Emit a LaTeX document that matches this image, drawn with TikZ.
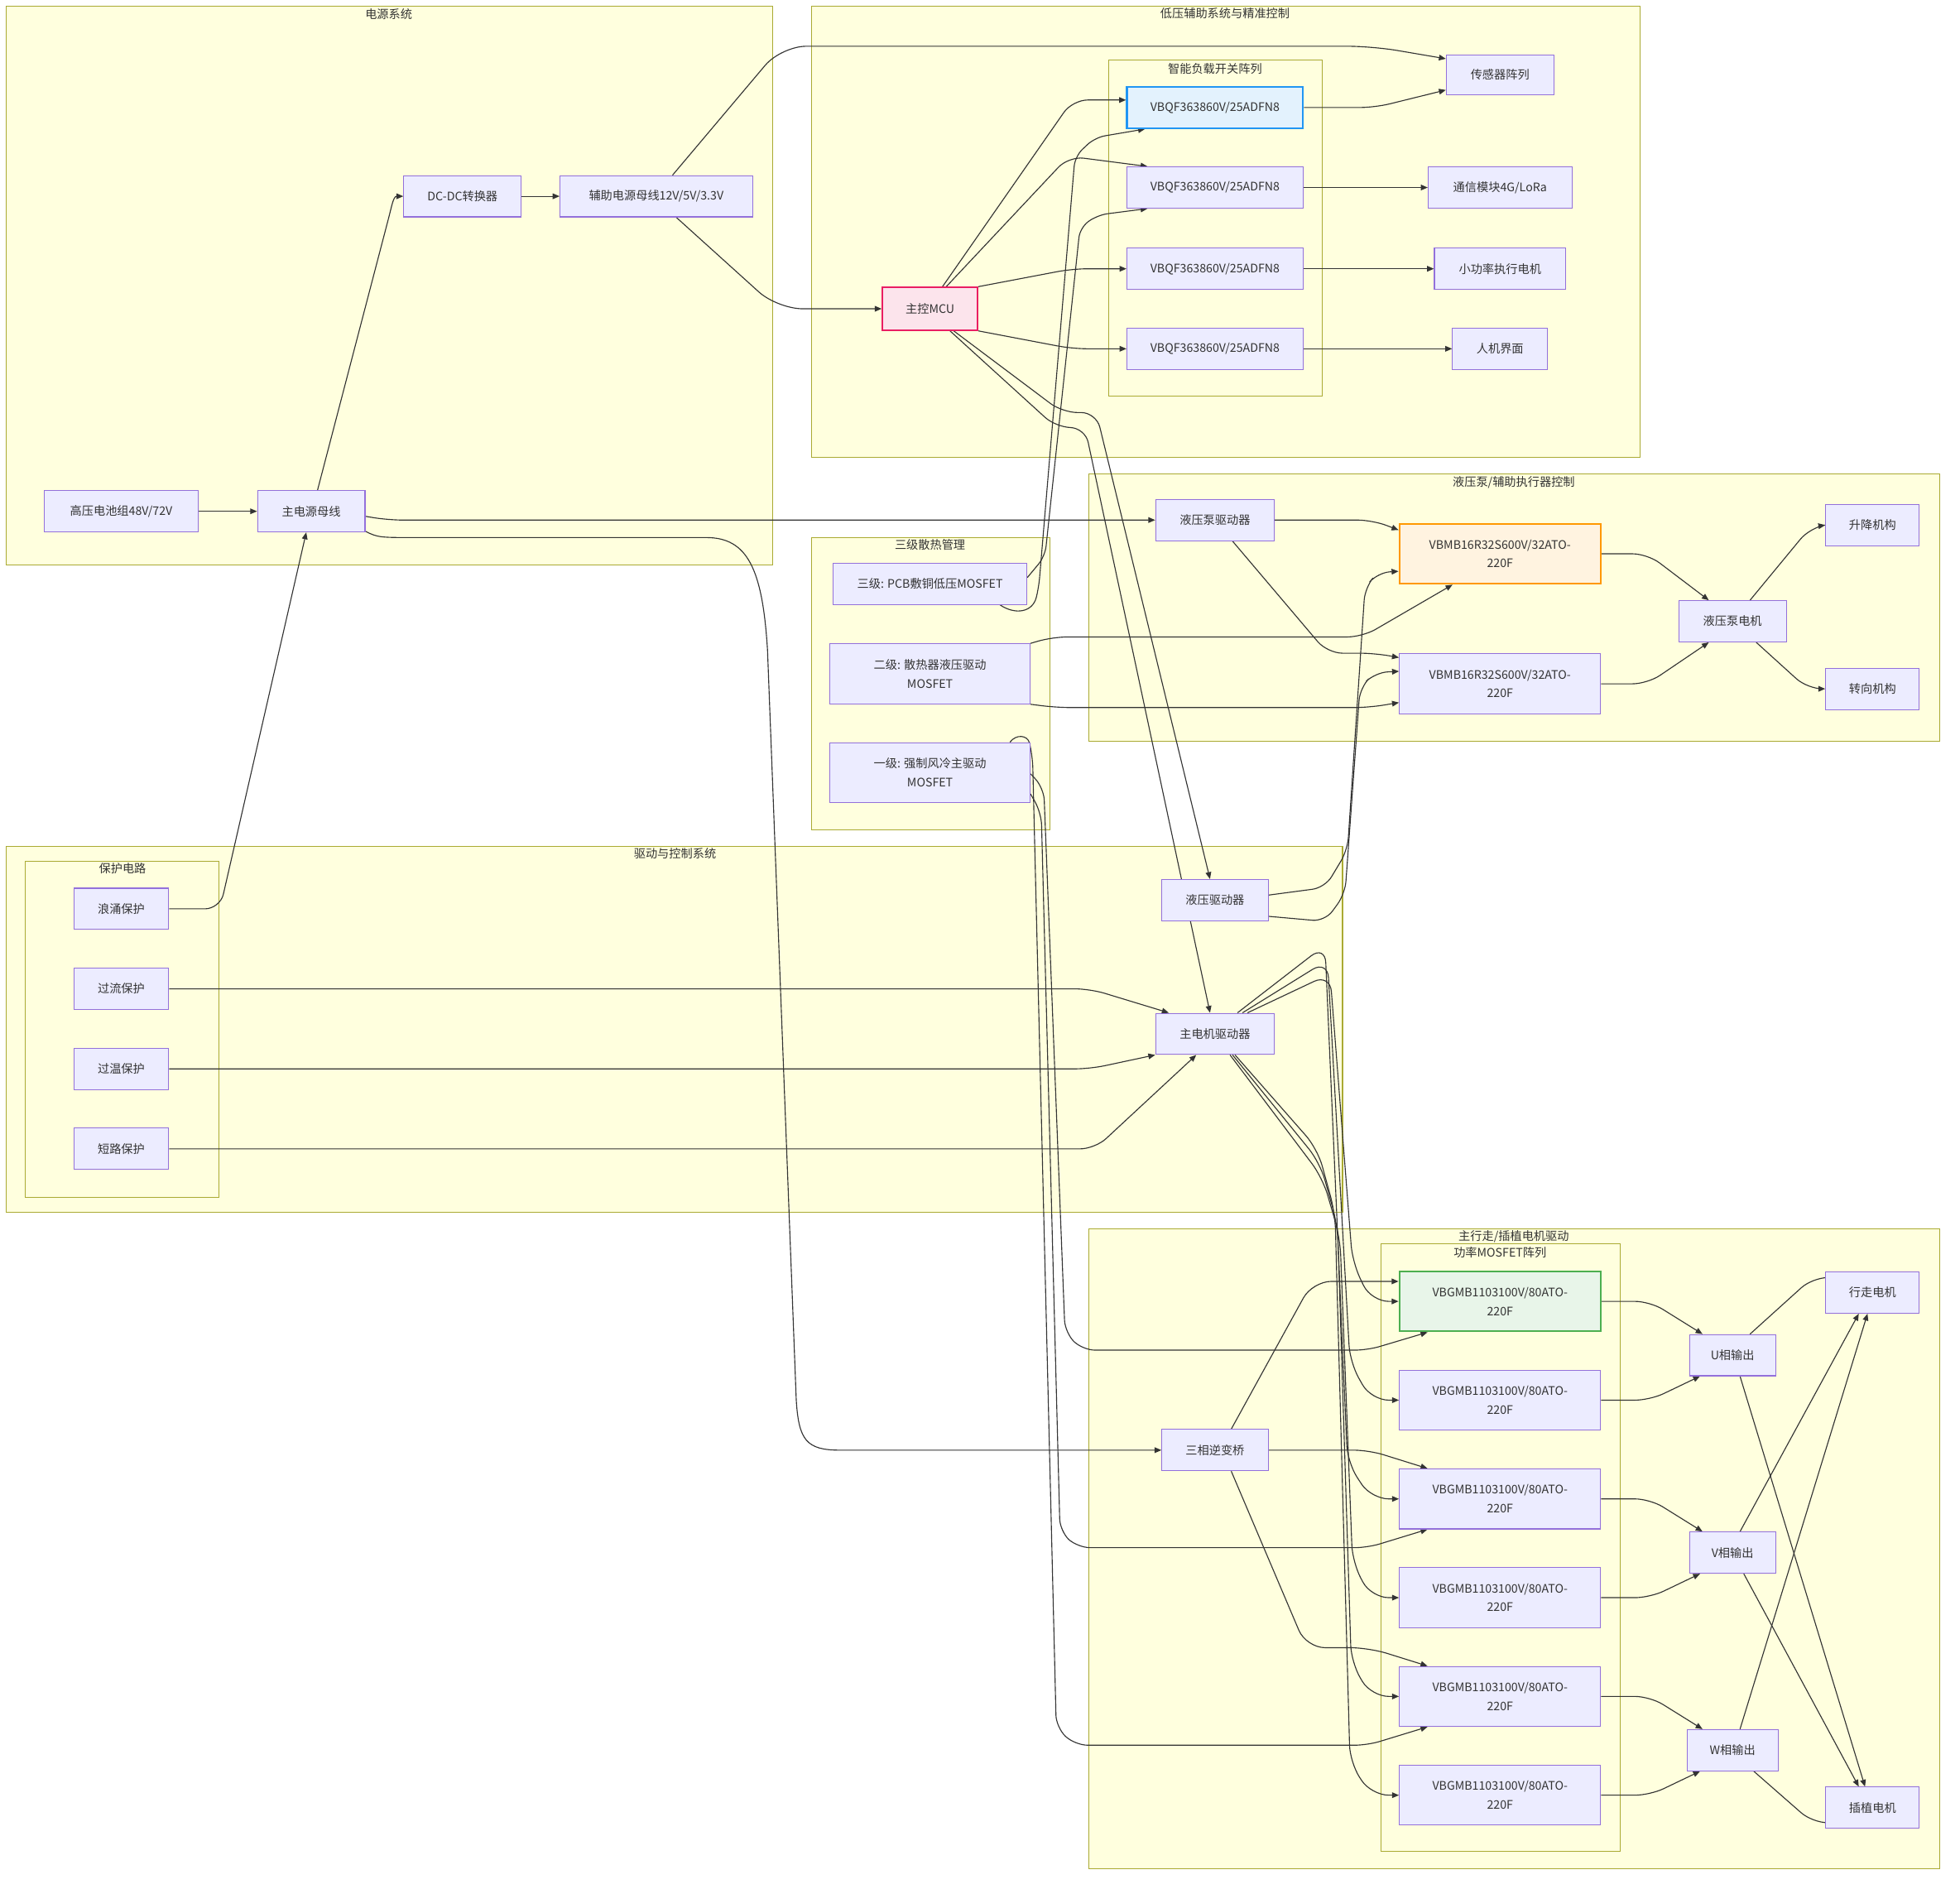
\documentclass[tikz,border=0pt]{standalone}
\usepackage{fontspec}
\setmainfont{Noto Sans CJK SC}
\usetikzlibrary{arrows.meta}
\pgfdeclarelayer{bg}
\pgfdeclarelayer{edges}
\pgfsetlayers{bg,edges,main}
\definecolor{nodef}{HTML}{ECECFF}
\definecolor{nodeb}{HTML}{9370DB}
\definecolor{clf}{HTML}{FFFFDE}
\definecolor{clb}{HTML}{AAAA33}
\definecolor{edgec}{HTML}{333333}
\definecolor{txt}{HTML}{333333}
\definecolor{mcuf}{HTML}{FCE4EC}
\definecolor{mcub}{HTML}{E91E63}
\definecolor{bluef}{HTML}{E3F2FD}
\definecolor{blueb}{HTML}{2196F3}
\definecolor{orf}{HTML}{FFF3E0}
\definecolor{orb}{HTML}{FF9800}
\definecolor{grf}{HTML}{E8F5E9}
\definecolor{grb}{HTML}{4CAF50}
\newcommand\mylbl{\fontsize{9.4}{15}\selectfont}
\tikzset{
  box/.style={draw=nodeb, fill=nodef, line width=0.7pt, minimum height=33pt, inner sep=0pt, align=center, font=\mylbl, text=txt},
  tall/.style={box, minimum height=48pt, minimum width=161pt},
  cl/.style={draw=clb, fill=clf, line width=0.7pt},
  cltitle/.style={font=\mylbl, text=txt, inner sep=0pt},
  e/.style={draw=edgec, line width=0.75pt, -{Triangle[length=5.5pt,width=4.5pt]}, rounded corners=12pt},
  mcus/.style={draw=mcub, fill=mcuf, line width=1.4pt},
  blues/.style={draw=blueb, fill=bluef, line width=1.4pt},
  ors/.style={draw=orb, fill=orf, line width=1.4pt},
  grs/.style={draw=grb, fill=grf, line width=1.4pt}
}
\begin{document}
\begin{tikzpicture}[x=1pt,y=1pt]
\useasboundingbox (0,0) rectangle (1568,-1511);
\begin{pgfonlayer}{bg}
\fill[white] (0,0) rectangle (1568,-1511);
\draw[cl] (5,-5) rectangle (618,-452);
\node[cltitle] (tA) at (311,-11) {电源系统};
\draw[cl] (649,-5) rectangle (1312,-366);
\node[cltitle] (tB) at (980,-11) {低压辅助系统与精准控制};
\draw[cl] (887,-48) rectangle (1058,-317);
\node[cltitle] (tB1) at (972,-55) {智能负载开关阵列};
\draw[cl] (871,-379) rectangle (1552,-593);
\node[cltitle] (tC) at (1211,-386) {液压泵/辅助执行器控制};
\draw[cl] (649,-430) rectangle (840,-664);
\node[cltitle] (tD) at (744,-436) {三级散热管理};
\draw[cl] (5,-677) rectangle (1074,-970);
\node[cltitle] (tE) at (540,-683) {驱动与控制系统};
\draw[cl] (20,-689) rectangle (175,-958);
\node[cltitle] (tE1) at (98,-695) {保护电路};
\draw[cl] (871,-983) rectangle (1552,-1495);
\node[cltitle] (tF) at (1211,-989) {主行走/插植电机驱动};
\draw[cl] (1105,-995) rectangle (1296,-1481);
\node[cltitle] (tF1) at (1200,-1002) {功率MOSFET阵列};
\end{pgfonlayer}

% nodes
\node[box, minimum width=123pt] (bat) at (97,-409) {高压电池组48V/72V};
\node[box, minimum width=86pt] (main) at (249,-409) {主电源母线};
\node[box, minimum width=94pt] (dcdc) at (370,-157) {DC-DC转换器};
\node[box, minimum width=154pt] (aux) at (525,-157) {辅助电源母线12V/5V/3.3V};
\node[box, mcus, minimum width=76pt, minimum height=34pt] (mcu) at (744,-247) {主控MCU};
\node[box, blues, minimum width=141pt] (q1) at (972,-86) {VBQF363860V/25ADFN8};
\node[box, minimum width=141pt] (q2) at (972,-150) {VBQF363860V/25ADFN8};
\node[box, minimum width=141pt] (q3) at (972,-215) {VBQF363860V/25ADFN8};
\node[box, minimum width=141pt] (q4) at (972,-279) {VBQF363860V/25ADFN8};
\node[box, minimum width=86pt, minimum height=32pt] (sens) at (1200,-60) {传感器阵列};
\node[box, minimum width=115pt] (comm) at (1200,-150) {通信模块4G/LoRa};
\node[box, minimum width=105pt] (smot) at (1200,-215) {小功率执行电机};
\node[box, minimum width=76pt] (hmi) at (1200,-279) {人机界面};
\node[box, minimum width=95pt] (hpd) at (972,-416) {液压泵驱动器};
\node[tall, ors] (m1) at (1200,-443) {VBMB16R32S600V/32ATO-\\220F};
\node[tall] (m2) at (1200,-547) {VBMB16R32S600V/32ATO-\\220F};
\node[box, minimum width=86pt] (hpm) at (1386,-497) {液压泵电机};
\node[box, minimum width=75pt] (lift) at (1498,-420) {升降机构};
\node[box, minimum width=75pt] (steer) at (1498,-551) {转向机构};
\node[box, minimum width=155pt] (t3) at (744,-467) {三级: PCB敷铜低压MOSFET};
\node[box, minimum width=160pt, minimum height=48pt] (t2) at (744,-539) {二级: 散热器液压驱动\\MOSFET};
\node[box, minimum width=160pt, minimum height=48pt] (t1) at (744,-618) {一级: 强制风冷主驱动\\MOSFET};
\node[box, minimum width=85pt] (hd) at (972,-720) {液压驱动器};
\node[box, minimum width=95pt] (md) at (972,-827) {主电机驱动器};
\node[box, minimum width=76pt] (p1) at (97,-727) {浪涌保护};
\node[box, minimum width=76pt] (p2) at (97,-791) {过流保护};
\node[box, minimum width=76pt] (p3) at (97,-855) {过温保护};
\node[box, minimum width=76pt] (p4) at (97,-919) {短路保护};
\node[box, minimum width=85pt] (inv) at (972,-1160) {三相逆变桥};
\node[tall, grs] (g1) at (1200,-1041) {VBGMB1103100V/80ATO-\\220F};
\node[tall] (g2) at (1200,-1120) {VBGMB1103100V/80ATO-\\220F};
\node[tall] (g3) at (1200,-1199) {VBGMB1103100V/80ATO-\\220F};
\node[tall] (g4) at (1200,-1278) {VBGMB1103100V/80ATO-\\220F};
\node[tall] (g5) at (1200,-1357) {VBGMB1103100V/80ATO-\\220F};
\node[tall] (g6) at (1200,-1436) {VBGMB1103100V/80ATO-\\220F};
\node[box, minimum width=69pt] (U) at (1386,-1084) {U相输出};
\node[box, minimum width=69pt] (V) at (1386,-1242) {V相输出};
\node[box, minimum width=73pt] (W) at (1386,-1400) {W相输出};
\node[box, minimum width=75pt] (walk) at (1498,-1034) {行走电机};
\node[box, minimum width=75pt] (plant) at (1498,-1446) {插植电机};

\begin{pgfonlayer}{edges}
% power system
\draw[e] (bat.east) -- (main.west);
\draw[e, rounded corners=0pt] ([xshift=5pt]main.north) -- (311,-174) to[out=75,in=180] (dcdc.west);
\draw[e] (dcdc.east) -- (aux.west);
\draw[e, rounded corners=20pt] ([xshift=13pt]aux.north) -- (625,-37) -- (1098,-37) -- ([yshift=13pt]sens.west);
\draw[e, rounded corners=20pt] ([xshift=16pt]aux.south) -- (622,-247) -- (mcu.west);
% MCU
\draw[e] ([xshift=10pt]mcu.north) -- (858,-80) -- ([yshift=6pt]q1.west);
\draw[e] ([xshift=13pt]mcu.north) -- (855,-125) -- ([xshift=-54pt]q2.north);
\draw[e] (mcu.north east) -- (858,-215) -- (q3.west);
\draw[e] (mcu.south east) -- (858,-279) -- (q4.west);
\draw[e] ([xshift=19pt]mcu.south) -- (850,-330) -- (877,-330) -- ([xshift=-4pt]hd.north);
\draw[e] ([xshift=16pt]mcu.south) -- (845,-342) -- (868,-342) -- ([xshift=-4pt]md.north);
% load switches
\draw[e] (q1.east) -- (1100,-86) -- ([yshift=-12pt]sens.west);
\draw[e] (q2.east) -- (comm.west);
\draw[e] (q3.east) -- (smot.west);
\draw[e] (q4.east) -- (hmi.west);
% thermal
\draw[e, rounded corners=8pt] ([xshift=56pt]t3.south) .. controls (812,-492) and (826,-490) .. (831,-470) -- (860,-125) -- (876,-110) -- ([xshift=-56pt]q1.south);
\draw[e, rounded corners=8pt] ([yshift=5pt]t3.east) -- (836,-445) -- (864,-182) -- (878,-172) -- ([xshift=-54pt]q2.south);
\draw[e] (t2.north east) -- (842,-509.5) -- (1090,-509.5) -- ([xshift=-38pt]m1.south);
\draw[e] (t2.south east) -- (845,-566) -- (1095,-566) -- ([yshift=-15pt]m2.west);
\draw[e, rounded corners=10pt] ([yshift=-1pt]t1.east) -- (835,-630) -- (852,-1066) -- (866,-1080) -- (1094,-1080) -- ([xshift=-58pt]g1.south);
\draw[e, rounded corners=10pt] ([yshift=-17pt]t1.east) -- (833,-650) -- (848,-1225) -- (862,-1238) -- (1094,-1238) -- ([xshift=-58pt]g3.south);
\draw[e, rounded corners=10pt] ([xshift=64pt]t1.north) .. controls (813,-587) and (822,-588) .. (826,-604) -- (845,-1382) -- (860,-1396) -- (1094,-1396) -- ([xshift=-58pt]g5.south);
% main bus
\draw[e] ([yshift=-4pt]main.east) -- (310,-416) -- (hpd.west);
\draw[e, rounded corners=0pt] ([yshift=-16pt]main.east) .. controls (302,-430) and (305,-430) .. (330,-430) -- (565,-430) .. controls (598,-430) and (610,-455) .. (614,-520) -- (637,-1120) .. controls (639,-1152) and (645,-1160) .. (672,-1160) -- (inv.west);
% hydraulic
\draw[e] (hpd.east) -- (1098,-416) -- ([yshift=19pt]m1.west);
\draw[e] ([xshift=14pt]hpd.south) -- (1062,-522.5) -- (1100,-522.5) -- ([yshift=21pt]m2.west);
\draw[e, rounded corners=10pt] ([yshift=4pt]hd.east) -- (1060,-710) -- (1078,-680) -- (1092,-470) -- (1102,-458) -- ([yshift=-14pt]m1.west);
\draw[e, rounded corners=10pt] ([yshift=-13pt]hd.east) -- (1060,-737) -- (1076,-715) -- (1088,-550) -- (1100,-538) -- ([yshift=10pt]m2.west);
\draw[e] (m1.east) -- (1318,-443) -- ([xshift=-19pt]hpm.north);
\draw[e] (m2.east) -- (1318,-547) -- ([xshift=-19pt]hpm.south);
\draw[e] ([xshift=14pt]hpm.north) -- (1448,-422) -- (lift.west);
\draw[e] ([xshift=19pt]hpm.south) -- (1446,-551) -- (steer.west);
% protection
\draw[e] (p1.east) -- (176,-727) -- ([xshift=-4pt]main.south);
\draw[e] (p2.east) -- (872,-791) -- ([xshift=-37pt]md.north);
\draw[e] (p3.east) -- (872,-855) -- (md.south west);
\draw[e] (p4.east) -- (876,-919) -- ([xshift=-15pt]md.south);
% main motor driver to MOSFETs
\draw[e, rounded corners=14pt] ([xshift=26pt]md.north) -- (1064,-779) -- (1082,-1010) -- (1097,-1041) -- (g1.west);
\draw[e, rounded corners=14pt] ([xshift=22pt]md.north) -- (1062,-768) -- (1080,-1090) -- (1097,-1120) -- (g2.west);
\draw[e, rounded corners=14pt] ([xshift=18pt]md.north) -- (1060,-756) -- (1078,-1170) -- (1097,-1199) -- (g3.west);
\draw[e, rounded corners=14pt] ([xshift=12pt]md.south) -- (1058,-942) -- (1072,-990) -- (1082,-1250) -- (1097,-1278) -- (g4.west);
\draw[e, rounded corners=14pt] ([xshift=14pt]md.south) -- (1056,-930) -- (1070,-980) -- (1081,-1330) -- (1097,-1357) -- (g5.west);
\draw[e, rounded corners=14pt] ([xshift=16pt]md.south) -- (1054,-919) -- (1068,-970) -- (1080,-1410) -- (1097,-1436) -- (g6.west);
% inverter
\draw[e, rounded corners=15pt] ([xshift=13pt]inv.north) -- (1050,-1025) -- ([yshift=16pt]g1.west);
\draw[e] (inv.east) -- (1095,-1160) -- ([xshift=-58pt]g3.north);
\draw[e, rounded corners=15pt] ([xshift=13pt]inv.south) -- (1045,-1318) -- (1095,-1318) -- ([xshift=-58pt]g5.north);
% phases
\draw[e] (g1.east) -- (1320,-1041) -- ([xshift=-24pt]U.north);
\draw[e] (g2.east) -- (1320,-1120) -- ([xshift=-26pt]U.south);
\draw[e] (g3.east) -- (1320,-1199) -- ([xshift=-24pt]V.north);
\draw[e] (g4.east) -- (1320,-1278) -- ([xshift=-26pt]V.south);
\draw[e] (g5.east) -- (1320,-1357) -- ([xshift=-24pt]W.north);
\draw[e] (g6.east) -- (1320,-1436) -- ([xshift=-26pt]W.south);
% motors
\draw[e] ([xshift=14pt]U.north) -- (1450,-1022) -- ([yshift=12pt]walk.west);
\draw[e] ([xshift=6pt]U.south) -- ([xshift=-6pt]plant.north);
\draw[e] ([xshift=6pt]V.north) -- ([xshift=-11pt]walk.south);
\draw[e] ([xshift=9pt]V.south) -- ([xshift=-11pt]plant.north);
\draw[e] ([xshift=6pt]W.north) -- ([xshift=-4pt]walk.south);
\draw[e] ([xshift=17pt]W.south) -- (1450,-1458) -- ([yshift=-12pt]plant.west);
\end{pgfonlayer}
\end{tikzpicture}
\end{document}
